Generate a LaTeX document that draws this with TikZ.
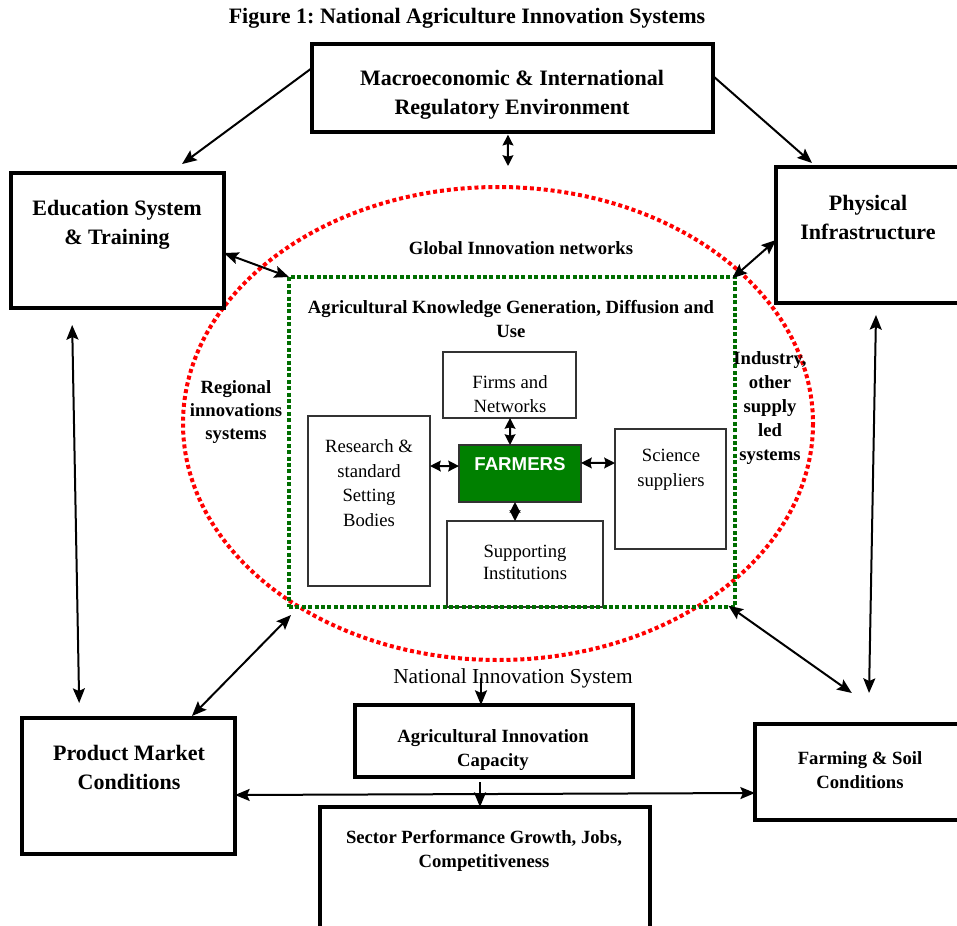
\documentclass[tikz,border=0pt]{standalone}
\usepackage{fontspec}
\setmainfont{Liberation Serif}
\newfontfamily\farmfont{Liberation Sans}
\usetikzlibrary{arrows.meta}
\frenchspacing
\definecolor{dotred}{RGB}{255,0,0}
\definecolor{dotgreen}{RGB}{0,110,0}
\definecolor{farmgreen}{RGB}{0,128,0}
\tikzset{
	outerbox/.style={draw, line width=2.3pt, inner sep=0pt, outer sep=0pt},
	innerbox/.style={draw=black!80, line width=0.8pt, inner sep=0pt, outer sep=0pt},
	reddots/.style={draw=dotred, line width=3pt, dash pattern={on 3pt off 2.2pt}},
	greendots/.style={draw=dotgreen, line width=3pt, dash pattern={on 3pt off 1.8pt}, inner sep=0pt, outer sep=0pt},
	bigtxt/.style={inner sep=0.75pt, align=center, font=\bfseries\fontsize{16.5}{21.75}\selectfont},
	midtxt/.style={inner sep=0.75pt, align=center, font=\bfseries\fontsize{14}{18}\selectfont},
	smalltxt/.style={inner sep=0.75pt, align=center, font=\fontsize{14}{18.4}\selectfont},
	twoway/.style={line width=1.5pt, {Stealth[length=11pt,width=9pt,inset=2pt]}-{Stealth[length=11pt,width=9pt,inset=2pt]}},
	shortway/.style={line width=1.5pt, {Stealth[length=8pt,width=8pt,inset=1pt]}-{Stealth[length=8pt,width=8pt,inset=1pt]}},
	oneway/.style={line width=1.5pt, -{Stealth[length=11pt,width=9pt,inset=2pt]}}
}
\begin{document}
\begin{tikzpicture}[x=0.75pt,y=0.75pt,yscale=-1,xscale=1]
	\useasboundingbox (0,0) rectangle (957,925);

	%Shape: Ellipse [Global Innovation networks]
	\draw [reddots] (498,423.5) ellipse [x radius=315, y radius=236.5];

	%Shape: Rectangle [outer boxes]
	\node [outerbox, minimum width=300.75pt, minimum height=66pt] (macro) at (512.5,88) {};
	\node [outerbox, minimum width=159.75pt, minimum height=101.25pt] (edu) at (117.5,240.5) {};
	\node [outerbox, minimum width=139.5pt, minimum height=102pt] (phys) at (869,235) {};
	\node [outerbox, minimum width=159.75pt, minimum height=102pt] (product) at (128.5,786) {};
	\node [outerbox, minimum width=155.25pt, minimum height=72pt] (farming) at (858.5,772) {};
	\node [outerbox, minimum width=208.5pt, minimum height=54pt] (capacity) at (494,741) {};
	\node [outerbox, minimum width=247.5pt, minimum height=99.75pt] (sector) at (485,873.5) {};

	%Shape: Rectangle [inner boxes]
	\node [innerbox, minimum width=99.75pt, minimum height=49.5pt] (firms) at (509.5,385) {};
	\node [innerbox, minimum width=91.5pt, minimum height=127.5pt] (research) at (369,501) {};
	\node [innerbox, minimum width=83.25pt, minimum height=90pt] (science) at (670.5,489) {};
	\node [innerbox, minimum width=117pt, minimum height=64.5pt] (support) at (525,564) {};
	\node [innerbox, fill=farmgreen, minimum width=91.5pt, minimum height=42.75pt] (farmers) at (520,473.5) {};

	%Shape: Rectangle [Agricultural Knowledge]
	\node [greendots, minimum width=334.5pt, minimum height=247.5pt] (akis) at (512,442) {};

	% Text Node
	\node [bigtxt] (titleT) at (467,18) {Figure 1: National Agriculture Innovation Systems};
	% Text Node
	\node [bigtxt] (macroT) at (512,95) {Macroeconomic \& International\\Regulatory Environment};
	% Text Node
	\node [bigtxt] (eduT) at (117,225) {Education System\\\& Training};
	% Text Node
	\node [bigtxt] (physT) at (868,217) {Physical\\Infrastructure};
	% Text Node
	\node [bigtxt] (productT) at (129,767) {Product Market\\Conditions};
	% Text Node
	\node [midtxt] (globalT) at (521,248) {Global Innovation networks};
	% Text Node
	\node [midtxt] (akisT) at (511,319) {Agricultural Knowledge Generation, Diffusion and\\Use};
	% Text Node
	\node [midtxt, font=\bfseries\fontsize{14}{17.6}\selectfont] (regionalT) at (236,412) {Regional\\innovations\\systems};
	% Text Node
	\node [midtxt] (industryT) at (770,408.5) {Industry,\\other\\supply\\led\\systems};
	% Text Node
	\node [midtxt] (capacityT) at (493,750) {Agricultural Innovation\\Capacity};
	% Text Node
	\node [midtxt] (farmingT) at (860,770) {Farming \& Soil\\Conditions};
	% Text Node
	\node [midtxt] (sectorT) at (484,851) {Sector Performance Growth, Jobs,\\Competitiveness};
	% Text Node
	\node [smalltxt, font=\fontsize{16}{19}\selectfont] (nationalT) at (513,678) {National Innovation System};
	% Text Node
	\node [smalltxt] (firmsT) at (510,394) {Firms and\\Networks};
	% Text Node
	\node [smalltxt] (researchT) at (369,483) {Research \&\\standard\\Setting\\Bodies};
	% Text Node
	\node [smalltxt] (scienceT) at (671,470) {Science\\suppliers};
	% Text Node
	\node [smalltxt, font=\fontsize{14}{16.5}\selectfont] (supportT) at (525,562) {Supporting\\Institutions};
	% Text Node
	\node [inner sep=0.75pt, text=white, font=\farmfont\bfseries\fontsize{14}{17}\selectfont] (farmersT) at (520,464) {FARMERS};

	\coordinate (globalTop) at (508,166);

	% Arrows round the outside
	\draw [oneway] ([yshift=-15pt]macro.west) -- ([shift={(48.4pt,-6.75pt)}]edu.north);
	\draw [oneway] ([yshift=-9pt]macro.east) -- ([shift={(-42.75pt,-3pt)}]phys.north);
	\draw [shortway] ([shift={(-3.4pt,2pt)}]macro.south) -- (globalTop);
	\draw [twoway] ([yshift=9.4pt]edu.east) -- (akis.north west);
	\draw [twoway] ([yshift=3.75pt]phys.west) -- ([shift={(-2pt,1pt)}]akis.north east);
	\draw [twoway] ([shift={(-34pt,12.75pt)}]edu.south) -- ([shift={(-37pt,-11.25pt)}]product.north);
	\draw [twoway] ([shift={(47.6pt,-1.5pt)}]product.north) -- ([shift={(1.5pt,6pt)}]akis.south west);
	\draw [twoway] ([shift={(-5pt,-1pt)}]akis.south east) -- ([shift={(-5pt,-23.25pt)}]farming.north);
	\draw [twoway] ([shift={(5.25pt,9pt)}]phys.south) -- ([shift={(7.9pt,-23.25pt)}]farming.north);
	\draw [oneway] ([xshift=-24pt]nationalT.center) -- ([xshift=-9.75pt]capacity.north);
	\draw [oneway] ([shift={(-10.5pt,3.75pt)}]capacity.south) -- ([xshift=-3.75pt]sector.north);
	\draw [twoway] ([yshift=6.75pt]product.east) -- ([yshift=15.75pt]farming.west);

	% Arrows round the farmers
	\draw [shortway] ([xshift=-7.5pt]farmers.north) -- ([xshift=0.4pt]firms.south);
	\draw [shortway] ([yshift=-26.25pt]research.east) -- ([yshift=-5.6pt]farmers.west);
	\draw [shortway] ([yshift=-7.9pt]farmers.east) -- ([yshift=-19.5pt]science.west);
	\draw [shortway] ([xshift=-3.75pt]farmers.south) -- ([xshift=-7.5pt]support.north);

\end{tikzpicture}
\end{document}
